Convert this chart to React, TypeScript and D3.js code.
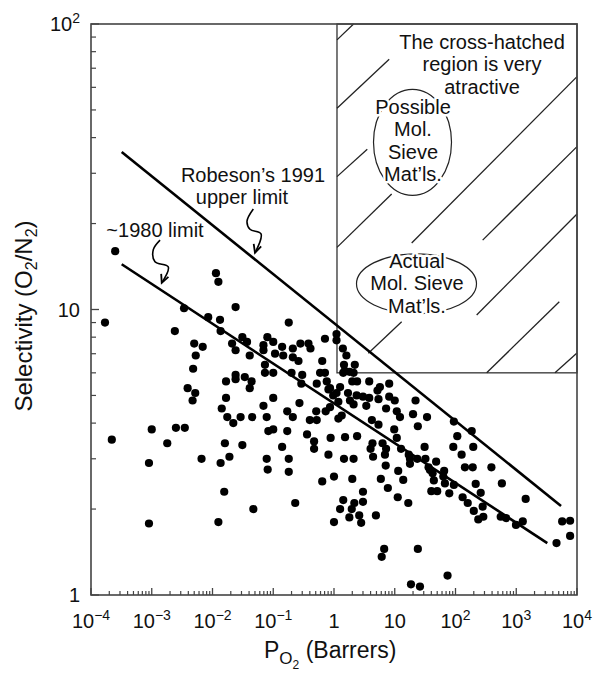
import React from "react";
import * as d3 from "d3";

// ---------- data ----------
const pO2: number[] = [
  2.5e-4, 1.7e-4, 0.0114, 0.0125, 0.024, 0.0034, 0.0085, 0.0133, 0.0024, 0.0136,
  0.18, 0.031, 0.037, 0.005, 0.0069, 0.021, 0.024, 0.0053, 0.0048, 0.041,
  0.069, 0.08, 0.1, 0.069, 0.107, 0.14, 0.146, 0.21, 0.21, 0.26,
  0.28, 0.38, 0.41, 0.71, 1.1, 1.1, 0.073, 0.073, 0.1, 0.2,
  0.3, 0.64, 0.59, 0.71, 0.024, 0.024, 0.034, 0.044, 0.0167, 0.041,
  0.0039, 0.0052, 0.29, 0.52, 0.76, 0.86, 1.1, 0.1, 0.0167, 0.0047,
  0.0142, 0.0175, 0.022, 0.029, 0.045, 0.069, 0.078, 0.083, 0.1, 0.17,
  0.21, 0.17, 0.27, 0.81, 0.97, 1.18, 0.86, 0.51, 0.73, 0.4,
  0.52, 1.18, 0.36, 0.47, 0.47, 0.88, 0.81, 1.0, 0.64, 2.2e-4,
  0.001, 0.0009, 0.0018, 0.0025, 0.0035, 0.0066, 0.0136, 0.016, 0.019, 0.031,
  0.0156, 0.047, 0.0009, 0.0125, 0.078, 0.081, 0.14, 0.18, 0.18, 0.23,
  1.0, 1.26, 1.4, 1.6, 2.2, 1.46, 1.5, 1.8, 2.1, 1.42,
  2.0, 2.4, 3.8, 8.1, 5.7, 5.2, 1.26, 1.7, 2.36, 3.0,
  3.8, 5.4, 8.1, 10, 1.83, 2.1, 3.4, 22, 7.2, 10.8,
  20, 12.2, 34, 1.34, 4.2, 5.4, 24, 9.8, 94, 185,
  10.8, 1.52, 2.4, 4.3, 4.0, 6.3, 7.2, 6.9, 4.4, 12.7,
  17, 31, 107, 92, 196, 126, 1.46, 2.1, 17.8, 23.5,
  32, 48, 17.8, 7.1, 36, 143, 192, 390, 38, 42,
  11.4, 65, 63, 13.8, 5.9, 2.0, 44, 67, 94, 215,
  580, 7.7, 40, 50, 79, 260, 3.0, 11.2, 131, 159,
  16.7, 1.42, 2.16, 3.0, 1.96, 200, 280, 1430, 4.9, 1.79,
  2.6, 2.8, 237, 287, 555, 680, 1280, 990, 5700, 7700,
  7700, 4600, 6.7, 6.1, 24, 74, 18.5, 26,
];
const selectivity: number[] = [
  16, 9.0, 13.4, 12.5, 10.2, 10.1, 9.4, 9.2, 8.4, 8.4,
  9.0, 8.0, 7.7, 7.6, 7.4, 7.6, 7.2, 6.9, 6.2, 6.9,
  7.5, 8.0, 7.7, 7.2, 7.0, 7.4, 6.9, 7.3, 6.8, 6.6,
  7.6, 7.6, 7.3, 7.9, 8.2, 7.8, 6.4, 6.0, 6.0, 6.0,
  5.9, 6.6, 6.0, 6.0, 5.9, 5.7, 5.8, 5.6, 5.6, 5.3,
  5.3, 5.1, 5.5, 5.5, 5.6, 5.3, 5.1, 4.9, 4.9, 4.8,
  4.5, 4.2, 4.0, 4.2, 4.2, 4.6, 4.2, 3.75, 3.8, 4.4,
  4.2, 3.75, 4.7, 5.25, 5.0, 4.75, 4.55, 4.4, 4.4, 4.1,
  4.1, 4.15, 3.65, 3.45, 3.25, 3.55, 3.1, 2.6, 2.5, 3.5,
  3.8, 2.9, 3.4, 3.85, 3.85, 3.0, 2.9, 3.4, 3.05, 3.35,
  2.3, 2.0, 1.78, 1.8, 3.0, 2.75, 3.3, 3.0, 2.7, 2.1,
  1.8, 2.0, 7.3, 6.9, 6.4, 6.4, 6.1, 6.05, 6.0, 6.0,
  5.6, 5.6, 5.6, 5.5, 5.35, 5.2, 5.35, 5.1, 5.0, 4.95,
  4.9, 4.85, 4.95, 4.8, 4.8, 4.65, 4.6, 4.8, 4.5, 4.4,
  4.3, 4.2, 4.2, 4.25, 4.1, 3.95, 3.9, 3.8, 4.05, 3.75,
  3.55, 3.57, 3.6, 3.4, 3.25, 3.4, 3.25, 3.1, 3.05, 3.25,
  3.1, 3.3, 3.6, 3.3, 3.3, 3.1, 3.0, 3.0, 3.0, 3.0,
  3.0, 2.93, 2.88, 2.84, 2.8, 2.8, 2.8, 2.8, 2.74, 2.67,
  2.72, 2.72, 2.6, 2.53, 2.55, 2.55, 2.52, 2.46, 2.43, 2.45,
  2.46, 2.37, 2.31, 2.31, 2.27, 2.28, 2.3, 2.2, 2.2, 2.1,
  2.1, 2.15, 2.1, 2.12, 2.0, 1.97, 2.04, 2.17, 1.9, 1.87,
  1.9, 1.79, 1.84, 1.88, 1.88, 1.86, 1.81, 1.76, 1.81, 1.82,
  1.61, 1.52, 1.45, 1.36, 1.45, 1.17, 1.09, 1.07,
];

// trade-off lines (end points)
const upperLimitP = [3.2e-4, 5460];
const upperLimitS = [35.6, 2.05];
const lowerLimitP = [3.2e-4, 3245];
const lowerLimitS = [14.4, 1.52];

// attractive region
const regionP = [1.12, 1e4];
const regionS = [6, 100];

// hatch segments in the region
const hatchP1 = [1.12, 1.12, 1.12, 1.12, 1e4, 1e4, 13.0, 1e4, 5110, 1e4];
const hatchS1 = [88, 50.7, 29.2, 16.5, 65.4, 37.2, 9.06, 21.6, 10.65, 7.04];
const hatchP2 = [2.1, 8.1, 3.53, 8.9, 19.0, 280, 3.67, 223, 326, 4340];
const hatchS2 = [100, 75.2, 36.4, 25.4, 17.1, 17.5, 7.03, 9.57, 6, 6];

// squiggly arrows
const upperArrowP = [0.047, 0.037, 0.0414, 0.0629, 0.05];
const upperArrowS = [22.5, 20.4, 19.1, 18.4, 15.8];
const lowerArrowP = [1.37e-3, 1.06e-3, 1.13e-3, 1.87e-3, 1.46e-3];
const lowerArrowS = [17.5, 16.2, 14.7, 14.1, 12.4];

// ticks
const xTickValues = [1e-4, 1e-3, 1e-2, 1e-1, 1, 10, 100, 1000, 10000];
const xTickBase = ["10", "10", "10", "10", "1", "10", "10", "10", "10"];
const xTickExp = ["\u22124", "\u22123", "\u22122", "\u22121", "", "", "2", "3", "4"];
const yTickValues = [1, 10, 100];
const yTickBase = ["1", "10", "10"];
const yTickExp = ["", "", "2"];

// annotation texts
const regionNote = ["The cross-hatched", "region is very", "atractive"];
const possibleNote = ["Possible", "Mol.", "Sieve", "Mat’ls."];
const actualNote = ["Actual", "Mol. Sieve", "Mat’ls."];

// ---------- layout ----------
const W = 593;
const H = 676;
const LEFT = 91;
const RIGHT = 577;
const TOP = 24;
const BOTTOM = 595;
const FONT = "'Liberation Sans', Arial, Helvetica, sans-serif";
const INK = "#111";
const NOTE_SIZE = 20;
const LEAD = 22.4;

export default function App() {
  const x = d3.scaleLog().domain([1e-4, 1e4]).range([LEFT, RIGHT]);
  const y = d3.scaleLog().domain([1, 100]).range([BOTTOM, TOP]);

  // minor ticks
  const xMinor: number[] = [];
  for (let e = -4; e < 4; e++) for (let m = 2; m <= 9; m++) xMinor.push(m * Math.pow(10, e));
  const yMinor: number[] = [];
  for (let e = 0; e < 2; e++) for (let m = 2; m <= 9; m++) yMinor.push(m * Math.pow(10, e));

  const arrowPath = (ps: number[], ss: number[]) => {
    const pts: [number, number][] = ps.map((p, i) => [x(p), y(ss[i])]);
    const line = d3.line().curve(d3.curveCatmullRom.alpha(0.5));
    const n = pts.length;
    const [x1, y1] = pts[n - 2];
    const [x2, y2] = pts[n - 1];
    const ang = Math.atan2(y2 - y1, x2 - x1);
    const L = 9;
    const a1 = ang + Math.PI - 0.45;
    const a2 = ang + Math.PI + 0.45;
    const head = `M${x2 + L * Math.cos(a1)},${y2 + L * Math.sin(a1)}L${x2},${y2}L${x2 + L * Math.cos(a2)},${y2 + L * Math.sin(a2)}`;
    return { body: line(pts) || "", head };
  };
  const ua = arrowPath(upperArrowP, upperArrowS);
  const la = arrowPath(lowerArrowP, lowerArrowS);

  const halo = { stroke: "#fff", strokeWidth: 5, paintOrder: "stroke" as const, strokeLinejoin: "round" as const };

  const possC = [x(19.6), y(38.5)];
  const actC = [x(22.8), y(12.3)];

  return (
    <svg
      width={W}
      height={H}
      style={{ position: "absolute", left: 0, top: 0, background: "#fff" }}
      fontFamily={FONT}
    >
      <rect x={0} y={0} width={W} height={H} fill="#fff" />

      {/* attractive region box */}
      <rect
        x={x(regionP[0])}
        y={y(regionS[1])}
        width={x(regionP[1]) - x(regionP[0])}
        height={y(regionS[0]) - y(regionS[1])}
        fill="none"
        stroke="#333"
        strokeWidth={1.3}
      />
      {hatchP1.map((p, i) => (
        <line
          key={"h" + i}
          x1={x(p)}
          y1={y(hatchS1[i])}
          x2={x(hatchP2[i])}
          y2={y(hatchS2[i])}
          stroke="#222"
          strokeWidth={1.3}
        />
      ))}

      {/* ellipses */}
      <ellipse cx={possC[0]} cy={possC[1]} rx={39} ry={53} fill="#fff" stroke="#222" strokeWidth={1.2} />
      <ellipse cx={actC[0]} cy={actC[1]} rx={60} ry={30} fill="#fff" stroke="#222" strokeWidth={1.2} />

      {/* scatter */}
      {pO2.map((p, i) => (
        <circle key={"p" + i} cx={x(p)} cy={y(selectivity[i])} r={4.1} fill="#000" />
      ))}

      {/* limit lines */}
      <line
        x1={x(upperLimitP[0])}
        y1={y(upperLimitS[0])}
        x2={x(upperLimitP[1])}
        y2={y(upperLimitS[1])}
        stroke="#000"
        strokeWidth={2.6}
      />
      <line
        x1={x(lowerLimitP[0])}
        y1={y(lowerLimitS[0])}
        x2={x(lowerLimitP[1])}
        y2={y(lowerLimitS[1])}
        stroke="#000"
        strokeWidth={2.6}
      />

      {/* frame */}
      <rect x={LEFT} y={TOP} width={RIGHT - LEFT} height={BOTTOM - TOP} fill="none" stroke="#444" strokeWidth={1.6} />

      {/* ticks */}
      {xMinor.map((v, i) => (
        <line key={"xm" + i} x1={x(v)} x2={x(v)} y1={BOTTOM} y2={BOTTOM - 4} stroke="#444" strokeWidth={1.2} />
      ))}
      {xTickValues.map((v, i) => (
        <line key={"xM" + i} x1={x(v)} x2={x(v)} y1={BOTTOM} y2={BOTTOM - 7} stroke="#444" strokeWidth={1.3} />
      ))}
      {yMinor.map((v, i) => (
        <line key={"ym" + i} x1={LEFT} x2={LEFT + 5} y1={y(v)} y2={y(v)} stroke="#444" strokeWidth={1.2} />
      ))}
      {yTickValues.map((v, i) => (
        <line key={"yM" + i} x1={LEFT} x2={LEFT + 8} y1={y(v)} y2={y(v)} stroke="#444" strokeWidth={1.3} />
      ))}

      {/* tick labels */}
      {xTickValues.map((v, i) => (
        <text key={"xl" + i} x={x(v)} y={628} textAnchor="middle" fontSize={20} fill={INK}>
          <tspan>{xTickBase[i]}</tspan>
          {xTickExp[i] && (
            <tspan dy={-8} fontSize={14}>
              {xTickExp[i]}
            </tspan>
          )}
        </text>
      ))}
      {yTickValues.map((v, i) => (
        <text key={"yl" + i} x={80} y={y(v) + 7} textAnchor="end" fontSize={20} fill={INK}>
          <tspan>{yTickBase[i]}</tspan>
          {yTickExp[i] && (
            <tspan dy={-8} fontSize={14}>
              {yTickExp[i]}
            </tspan>
          )}
        </text>
      ))}

      {/* axis titles */}
      <text x={264} y={658} fontSize={23} fill={INK}>
        <tspan>P</tspan>
        <tspan dy={6} fontSize={17}>O</tspan>
        <tspan dy={5} fontSize={12}>2</tspan>
        <tspan dy={-11} fontSize={23}>{" (Barrers)"}</tspan>
      </text>
      <text transform="translate(32,316) rotate(-90)" textAnchor="middle" fontSize={24} fill={INK}>
        <tspan>Selectivity (O</tspan>
        <tspan dy={5} fontSize={16}>2</tspan>
        <tspan dy={-5}>/N</tspan>
        <tspan dy={5} fontSize={16}>2</tspan>
        <tspan dy={-5}>)</tspan>
      </text>

      {/* annotations */}
      <g fontSize={NOTE_SIZE} fill={INK} textAnchor="middle">
        <text x={253} y={182}>Robeson’s 1991</text>
        <text x={242} y={204}>upper limit</text>
        <text x={155} y={237}>~1980 limit</text>

        {regionNote.map((t, i) => (
          <text key={"rn" + i} x={482} y={49 + i * LEAD} {...halo}>
            {t}
          </text>
        ))}
        {possibleNote.map((t, i) => (
          <text key={"pn" + i} x={413} y={114 + i * LEAD} {...halo}>
            {t}
          </text>
        ))}
        {actualNote.map((t, i) => (
          <text key={"an" + i} x={417} y={268 + i * LEAD} {...halo}>
            {t}
          </text>
        ))}
      </g>

      {/* arrows */}
      <path d={ua.body} fill="none" stroke="#000" strokeWidth={1.6} />
      <path d={ua.head} fill="none" stroke="#000" strokeWidth={1.8} />
      <path d={la.body} fill="none" stroke="#000" strokeWidth={1.6} />
      <path d={la.head} fill="none" stroke="#000" strokeWidth={1.8} />
    </svg>
  );
}
